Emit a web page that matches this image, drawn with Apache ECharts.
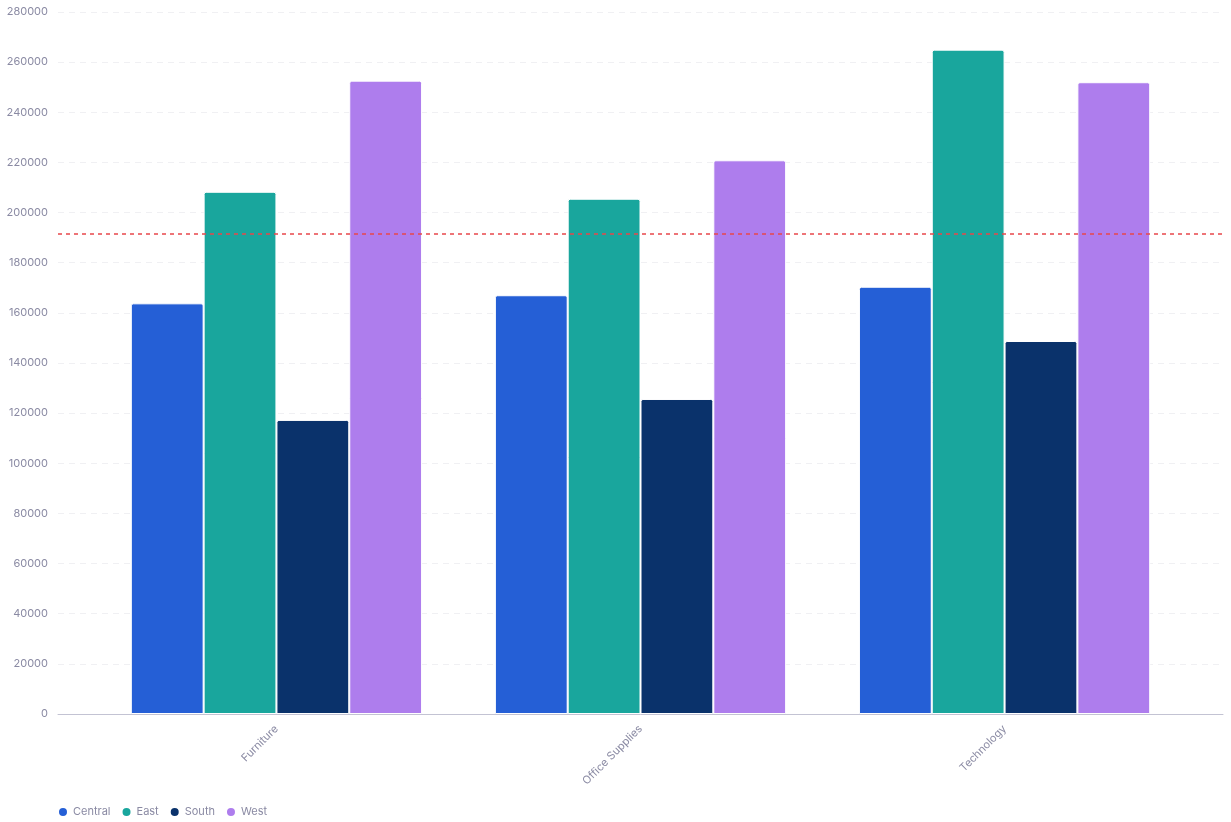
<!DOCTYPE html>
<html>
<head>
<meta charset="utf-8">
<script src="https://cdn.jsdelivr.net/npm/echarts@6/dist/echarts.min.js"></script>
<style>
  html, body { margin: 0; padding: 0; background: #fff; }
  #mainChart { width: 1231px; height: 822px; }
</style>
</head>
<body>
<div id="mainChart"></div>
<script>
var categories = ['Furniture', 'Office Supplies', 'Technology'];
var regions = ['Central', 'East', 'South', 'West'];
var central = [163797, 167026, 170416];
var east = [208291, 205516, 264974];
var south = [117299, 125651, 148772];
var west = [252613, 220853, 251992];
var colors = ['#255fd6', '#19a69d', '#0a326b', '#ae7ded'];

var allValues = central.concat(east, south, west);
var average = allValues.reduce(function (a, b) { return a + b; }, 0) / allValues.length;

// categories sit at 0, 1, 2 on a value axis so the outer padding can match the reference
var seriesData = [central, east, south, west];
var series = regions.map(function (name, i) {
  var s = {
    name: name,
    type: 'bar',
    data: seriesData[i].map(function (v, k) { return [k, v]; }),
    barGap: '0%',
    barCategoryGap: '20%',
    itemStyle: { color: colors[i], borderColor: '#fff', borderWidth: 1, borderRadius: [2, 2, 0, 0] }
  };
  if (i === 0) {
    s.markLine = {
      silent: true,
      symbol: 'none',
      label: { show: false },
      lineStyle: { color: '#e8474b', type: [4, 4], width: 1.5 },
      data: [{ yAxis: average }]
    };
  }
  return s;
});

var myChart = echarts.init(document.getElementById('mainChart'));
myChart.setOption({
  animation: false,
  textStyle: { fontFamily: 'Inter' },
  grid: { left: 58, right: 8, top: 12, bottom: 108 },
  legend: {
    left: 52,
    top: 801,
    icon: 'circle',
    itemWidth: 10,
    itemHeight: 10,
    itemGap: 10,
    textStyle: { color: '#8a8aa3', fontSize: 11, fontFamily: 'Inter' },
    data: regions
  },
  xAxis: {
    type: 'value',
    min: -0.6,
    max: 2.6,
    axisLine: { show: true, onZero: false, lineStyle: { color: '#c3c3d3' } },
    axisTick: { show: false },
    splitLine: { show: false },
    axisLabel: {
      rotate: 45,
      color: '#8a8aa3',
      fontSize: 11,
      margin: 13,
      customValues: [0, 1, 2],
      formatter: function (v) { return categories[Math.round(v)] || ''; }
    }
  },
  yAxis: {
    type: 'value',
    min: 0,
    max: 280000,
    interval: 20000,
    axisLine: { show: false },
    axisTick: { show: false },
    axisLabel: { color: '#8a8aa3', fontSize: 11, margin: 10, formatter: function (v) { return String(v); } },
    splitLine: { lineStyle: { color: '#f0f0f3', type: [6, 5] } }
  },
  series: series
});
</script>
</body>
</html>
